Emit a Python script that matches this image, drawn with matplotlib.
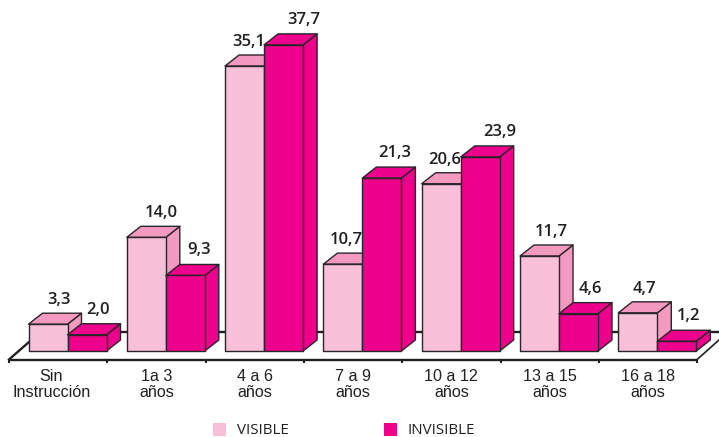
import matplotlib
matplotlib.use("Agg")
import matplotlib.pyplot as plt
from matplotlib.patches import Polygon, Patch

categories = ["Sin\nInstrucción", "1a 3\naños", "4 a 6\naños", "7 a 9\naños",
              "10 a 12\naños", "13 a 15\naños", "16 a 18\naños"]
visible = [3.3, 14.0, 35.1, 10.7, 20.6, 11.7, 4.7]
invisible = [2.0, 9.3, 37.7, 21.3, 23.9, 4.6, 1.2]
series_names = ["VISIBLE", "INVISIBLE"]

W, H = 719, 437
PX_X = 98.3          # pixels per category
PX_Y = 8.12          # pixels per value unit
X0, Y0 = 9, 351      # pixel of x=0 and y=0

fig = plt.figure(figsize=(W / 100, H / 100), dpi=100)
ax = fig.add_axes([0, 0, 1, 1])
ax.set_xlim(-X0 / PX_X, (W - X0) / PX_X)
ax.set_ylim(-(H - Y0) / PX_Y, Y0 / PX_Y)
ax.axis("off")

dx = 14 / PX_X
dy = 11 / PX_Y
bar_w = 39 / PX_X
start = 19.5 / PX_X
EDGE = "#2a2528"
LINE = "#231f20"
n = len(categories)

# floor
front = -8.5 / PX_Y
back = 19 / PX_Y
end = (W - X0) / PX_X
ax.plot([20 / PX_X, end], [back, back], color=LINE, lw=1.7, zorder=1, solid_capstyle="butt")
ax.plot([0, 20 / PX_X], [front, 9 / PX_Y], color=LINE, lw=1.7, zorder=1)
ax.plot([0, n], [front, front], color=LINE, lw=1.7, zorder=1, solid_capstyle="butt")
ax.plot([n, end], [front, 11 / PX_Y], color=LINE, lw=1.2, zorder=1)
for i in range(n + 1):
    ax.plot([i, i], [front, front - 3.5 / PX_Y], color=LINE, lw=1.5, zorder=1, solid_capstyle="butt")


def bar3d(x, v, face, shade, z):
    kw = dict(edgecolor=EDGE, lw=1.0, joinstyle="round", zorder=z)
    ax.add_patch(Polygon([(x + bar_w, 0), (x + bar_w + dx, dy), (x + bar_w + dx, v + dy), (x + bar_w, v)],
                         facecolor=shade, **kw))
    ax.add_patch(Polygon([(x, v), (x + dx, v + dy), (x + bar_w + dx, v + dy), (x + bar_w, v)],
                         facecolor=shade, **kw))
    ax.add_patch(Polygon([(x, 0), (x + bar_w, 0), (x + bar_w, v), (x, v)],
                         facecolor=face, **kw))


LIGHT, LIGHT_TOP = "#F8BFD8", "#F49AC1"
MAG = "#EC008C"
for i in range(n):
    x = i + start
    bar3d(x, visible[i], LIGHT, LIGHT_TOP, 2 + i * 2)
    bar3d(x + bar_w, invisible[i], MAG, MAG, 3 + i * 2)

vis_shift = [11, 15, 4, 3, 3, 12, 7]
inv_shift = [11, 14, 20, 13, 20, 12, 12]
for i in range(n):
    for off, v, s, g in ((0, visible[i], vis_shift[i], 13), (1, invisible[i], inv_shift[i], 14)):
        cx = i + start + bar_w * (off + 0.5) + s / PX_X
        ax.text(cx, v + dy + g / PX_Y, f"{v:.1f}".replace(".", ","), ha="center", va="center",
                fontsize=12, fontweight="semibold", family="Open Sans", color="#231f20", zorder=50)

for i, c in enumerate(categories):
    cx = i + 0.5 - (7 / PX_X if i == 0 else 0)
    ax.text(cx, -33.5 / PX_Y, c, ha="center", va="center", family="Liberation Sans",
            fontsize=11.6, color="#231f20", linespacing=1.12)

handles = [Patch(facecolor=LIGHT, edgecolor="none"), Patch(facecolor=MAG, edgecolor="none")]
ax.legend(handles, series_names, ncol=2, frameon=False, loc="center",
          bbox_to_anchor=(344 / W, 1 - 430.5 / H),
          prop={"family": "Open Sans", "size": 10.9}, handlelength=0.85, handleheight=1.0,
          handletextpad=0.7, columnspacing=6.3, labelcolor="#231f20", borderpad=0)

fig.savefig("out.png", dpi=100)
